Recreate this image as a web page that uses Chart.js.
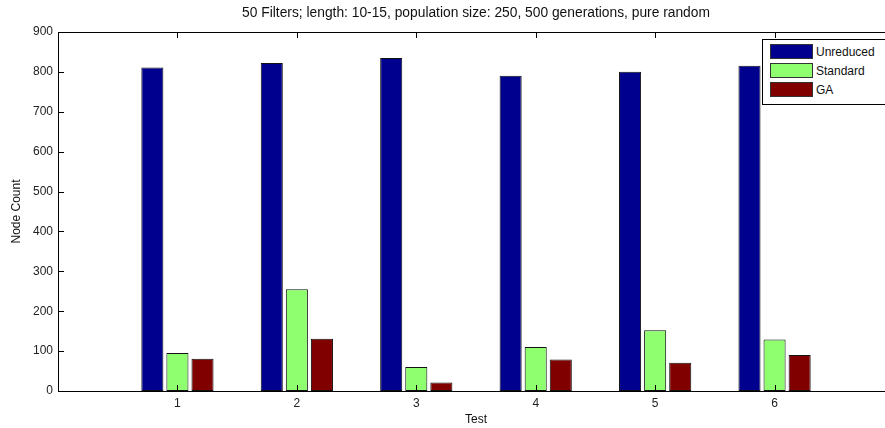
<!DOCTYPE html>
<html>
<head>
<meta charset="utf-8">
<script src="https://cdn.jsdelivr.net/npm/chart.js@4"></script>
<style>
    html, body { margin: 0; padding: 0; background: #fff; overflow: hidden; }
    #wrap { position: relative; width: 885px; height: 428px; overflow: hidden; }
    #chart { position: absolute; left: 0; top: 0; }
    .legend { position: absolute; left: 762px; top: 39px; width: 140px; height: 64px; border: 1px solid #000; background: #fff; font: 12px "Liberation Sans", Arial, sans-serif; color: #111; }
    .legend .row { position: absolute; left: 7px; height: 15px; display: flex; align-items: center; }
    .legend .sw { width: 41px; height: 13px; border: 1px solid #333; margin-right: 3px; }
</style>
</head>
<body>
<div id="wrap">
    <canvas id="chart" width="900" height="428" style="width: 900px; height: 428px;"></canvas>
    <div class="legend" id="legend"></div>
</div>
<script>
const tests = ['1', '2', '3', '4', '5', '6'];
const unreduced = [811, 822, 835, 790, 800, 815];
const standard = [95, 255, 60, 110, 152, 129];
const ga = [81, 131, 21, 79, 71, 90];
const yTicks = [0, 100, 200, 300, 400, 500, 600, 700, 800, 900];

const seriesNames = ['Unreduced', 'Standard', 'GA'];
const seriesColors = ['#00008f', '#8fff70', '#800000'];

// empty slots at both ends so the x range runs 0..7 like the original
const labels = [''].concat(tests, ['']);
const pad = arr => [null].concat(arr, [null]);

const font = { family: '"Liberation Sans", Arial, sans-serif', size: 12 };

// box round the plot with inward ticks, matlab style
const axesBox = {
    id: 'axesBox',
    afterDraw(chart) {
        const { ctx, chartArea: a, scales } = chart;
        ctx.save();
        ctx.strokeStyle = '#000';
        ctx.lineWidth = 1;
        ctx.strokeRect(Math.round(a.left) + 0.5, Math.round(a.top) + 0.5, Math.round(a.right - a.left), Math.round(a.bottom - a.top));
        ctx.beginPath();
        tests.forEach((t, i) => {
            const x = Math.round(scales.x.getPixelForValue(i + 1)) + 0.5;
            ctx.moveTo(x, a.bottom); ctx.lineTo(x, a.bottom - 6);
            ctx.moveTo(x, a.top); ctx.lineTo(x, a.top + 6);
        });
        yTicks.forEach(v => {
            const y = Math.round(scales.y.getPixelForValue(v)) + 0.5;
            ctx.moveTo(a.left, y); ctx.lineTo(a.left + 6, y);
            ctx.moveTo(a.right, y); ctx.lineTo(a.right - 6, y);
        });
        ctx.stroke();
        ctx.restore();
    }
};

new Chart(document.getElementById('chart'), {
    type: 'bar',
    data: {
        labels: labels,
        datasets: [
            { label: seriesNames[0], data: pad(unreduced), backgroundColor: seriesColors[0] },
            { label: seriesNames[1], data: pad(standard), backgroundColor: seriesColors[1] },
            { label: seriesNames[2], data: pad(ga), backgroundColor: seriesColors[2] }
        ]
    },
    options: {
        responsive: false,
        animation: false,
        layout: { padding: { top: 0, right: 6, left: 0, bottom: 0 } },
        datasets: {
            bar: { categoryPercentage: 0.63, barPercentage: 0.88, borderWidth: 1, borderColor: '#111', borderSkipped: false }
        },
        plugins: {
            legend: { display: false },
            tooltip: { enabled: false },
            title: {
                display: true,
                fullSize: false,
                text: '50 Filters; length: 10-15, population size: 250, 500 generations, pure random',
                font: { family: font.family, size: 13.8, weight: 'normal' },
                color: '#111',
                padding: { top: 5, bottom: 10.4 }
            }
        },
        scales: {
            x: {
                offset: false,
                grid: { display: false, drawTicks: false },
                border: { display: false },
                ticks: { font: font, color: '#222', padding: 5, maxRotation: 0, autoSkip: false },
                title: { display: true, text: 'Test', font: font, color: '#111', padding: { top: 0, bottom: 1 } },
                afterFit(s) { s.height = 37; }
            },
            y: {
                min: 0,
                max: 900,
                grid: { display: false, drawTicks: false },
                border: { display: false },
                afterBuildTicks(s) { s.ticks = yTicks.map(v => ({ value: v })); },
                ticks: { font: font, color: '#222', padding: 5 },
                title: { display: true, text: 'Node Count', font: font, color: '#111', padding: { top: 9, bottom: 0 } },
                afterFit(s) { s.width = 58; }
            }
        }
    },
    plugins: [axesBox]
});

const legend = document.getElementById('legend');
seriesNames.forEach((name, i) => {
    const row = document.createElement('div');
    row.className = 'row';
    row.style.top = (4 + i * 19) + 'px';
    row.innerHTML = `<span class="sw" style="background: ${seriesColors[i]};"></span><span>${name}</span>`;
    legend.appendChild(row);
});
</script>
</body>
</html>
